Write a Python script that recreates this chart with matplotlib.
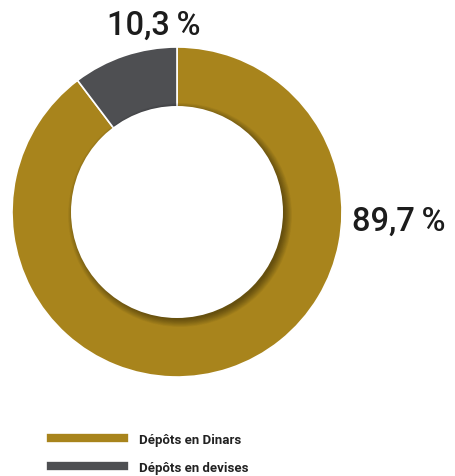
import matplotlib.pyplot as plt
from matplotlib.patches import Circle
from matplotlib.lines import Line2D

# repartition des depots
labels = ['Dépôts en Dinars', 'Dépôts en devises']
values = [89.7, 10.3]
pct_text = ['89,7\u2009%', '10,3\u2009%']
colors = ['#A8841C', '#4E4F52']

plt.rcParams['font.family'] = ['Roboto', 'DejaVu Sans']

fig = plt.figure(figsize=(4.55, 4.77), dpi=100)
ax = fig.add_axes([0, 0, 1, 1])

cx, cy = 177, 477 - 213
R, r = 165, 106

wedges, _ = ax.pie(values, colors=colors, startangle=90, counterclock=False,
                   center=(cx, cy), radius=R, frame=True,
                   wedgeprops=dict(edgecolor='white', linewidth=1.2))
ax.set_xlim(0, 455)
ax.set_ylim(0, 477)
ax.set_aspect('equal')
ax.axis('off')

# soft shadow inside the hole (bottom right)
for k in range(14):
    ax.add_patch(Circle((cx + 3, cy - 3), r + 6 - k * 0.6, color='black',
                        alpha=0.03, lw=0, zorder=3))
ax.add_patch(Circle((cx, cy), r, color='white', lw=0, zorder=4))

ax.text(154, 477 - 26, pct_text[1], ha='center', va='center', fontsize=23.5,
        fontweight='medium', color='#1c1c1c')
ax.text(399, 477 - 222, pct_text[0], ha='center', va='center', fontsize=23.5,
        fontweight='medium', color='#1c1c1c')

handles = [Line2D([0], [0], color=c, lw=6) for c in colors]
leg = ax.legend(handles, labels, loc='upper left', bbox_to_anchor=(0.085, 0.115),
                frameon=False, handlelength=5.6, handletextpad=1.1,
                labelspacing=1.1, prop=dict(size=9.5, weight='bold'))
for t in leg.get_texts():
    t.set_color('#222222')

fig.savefig('out.png', dpi=100)
